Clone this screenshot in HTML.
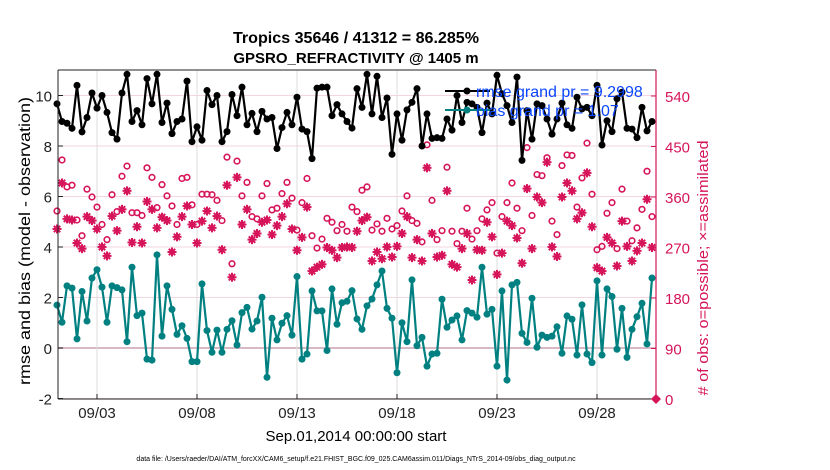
<!DOCTYPE html>
<html><head><meta charset="utf-8"><style>
body{margin:0;background:#fff;width:830px;height:470px;overflow:hidden}
svg{display:block;font-family:"Liberation Sans",Arial,sans-serif}
</style></head><body>
<svg id="chart" width="830" height="470" viewBox="0 0 830 470">
<g id="grid"></g>
<g id="series"></g>
<g id="axes"></g>
<text x="356" y="43" text-anchor="middle" font-size="16" font-weight="bold" textLength="246" lengthAdjust="spacingAndGlyphs">Tropics 35646 / 41312 = 86.285%</text>
<text x="356" y="63" text-anchor="middle" font-size="15" font-weight="bold">GPSRO_REFRACTIVITY @ 1405 m</text>
<text transform="translate(30,241) rotate(-90)" text-anchor="middle" font-size="16" textLength="288" lengthAdjust="spacingAndGlyphs">rmse and bias (model - observation)</text>
<text transform="translate(708,268) rotate(-90)" text-anchor="middle" font-size="15" fill="#d6145a" textLength="255" lengthAdjust="spacingAndGlyphs"># of obs: o=possible; ×=assimilated</text>
<text x="356" y="441" text-anchor="middle" font-size="15">Sep.01,2014 00:00:00 start</text>
<text x="356" y="461" text-anchor="middle" font-size="7">data file: /Users/raeder/DAI/ATM_forcXX/CAM6_setup/f.e21.FHIST_BGC.f09_025.CAM6assim.011/Diags_NTrS_2014-09/obs_diag_output.nc</text>
<g>
<line x1="445" y1="91" x2="490" y2="91" stroke="#000" stroke-width="2"/><circle cx="467" cy="91" r="3.5" fill="#000"/>
<text x="476" y="97" font-size="16" fill="#0a46ff">rmse grand pr = 9.2998</text>
<line x1="445" y1="110" x2="490" y2="110" stroke="#008080" stroke-width="2"/><circle cx="467" cy="110" r="3.5" fill="#008080"/>
<text x="476" y="116" font-size="16" fill="#0a46ff">bias grand pr = 1.07</text>
</g>
</svg>
<script>
const rmse=[9.67,8.97,8.9,8.7,10.4,8.56,9.13,10.1,9.5,10.0,9.33,8.53,8.27,10.1,10.84,8.97,9.4,8.84,10.67,9.67,10.84,8.93,9.7,8.49,8.97,9.07,10.57,8.17,8.76,8.23,10.2,9.64,10.0,8.17,8.57,10.04,9.2,10.33,8.84,9.29,8.57,9.37,9.07,9.13,7.9,8.73,9.33,8.84,9.93,8.67,8.57,7.5,10.29,10.33,10.33,9.2,9.64,9.27,8.97,8.71,10.27,9.53,10.84,9.27,10.76,9.13,9.9,7.67,9.27,8.23,9.43,9.73,10.27,8.0,9.27,8.3,8.33,8.3,9.07,8.63,10.0,8.93,9.73,9.67,9.53,8.53,9.7,9.27,10.8,10.07,9.6,8.93,10.73,7.43,9.4,8.27,9.67,9.6,9.07,8.47,9.07,9.7,8.84,8.7,9.93,9.47,9.53,9.2,10.4,8.04,9.0,8.57,9.87,10.13,8.7,8.67,8.33,9.53,8.6,8.97];
const bias=[1.7,1.02,2.46,2.37,0.36,2.24,1.07,2.77,3.1,2.41,1.02,2.46,2.39,2.3,0.25,3.2,1.28,1.38,-0.44,-0.48,3.69,0.47,2.46,1.53,0.54,0.88,0.38,-0.54,-0.54,2.54,0.69,-0.17,0.71,-0.17,0.74,1.08,0.12,1.4,1.61,0.75,1.07,2.01,-1.16,1.18,0.32,0.98,1.28,0.51,2.83,-0.44,-0.24,2.26,1.47,1.47,-0.1,2.34,0.94,1.79,1.85,2.27,1.15,0.74,1.67,1.94,2.5,3.05,1.57,1.18,-0.98,1.0,0.25,2.7,0.09,0.42,-0.72,-0.24,-0.21,1.93,0.82,1.11,1.27,0.32,1.48,1.38,1.22,3.2,1.34,1.53,-0.72,2.26,-1.27,2.5,2.6,0.58,0.22,1.97,0.03,0.51,0.42,0.47,0.84,-0.21,1.27,1.14,-0.28,1.71,-0.24,-0.58,2.66,-0.28,2.34,2.04,-0.05,1.57,-0.37,0.74,1.24,1.77,0.16,2.77];
const possible=[335,426,378,381,319,291,374,360,342,311,284,364,334,397,415,332,332,327,412,395,341,382,362,344,311,393,395,346,311,365,365,364,354,318,431,241,424,362,386,325,321,362,384,337,340,366,386,358,301,350,393,291,269,285,322,315,300,311,299,342,334,372,378,301,312,299,322,303,309,335,362,318,313,280,453,354,284,300,413,299,277,299,340,285,300,321,337,350,260,325,350,385,340,300,448,327,400,398,430,317,293,416,435,434,342,394,456,365,266,272,331,350,268,374,317,282,305,338,406,325];
const assimilated=[303,385,321,319,278,268,325,318,303,271,255,326,300,338,371,279,307,278,352,338,305,324,318,262,289,325,344,311,278,317,335,305,326,266,381,217,395,311,338,284,295,315,319,293,309,325,348,303,265,288,342,228,235,240,270,265,252,270,271,270,299,318,324,246,262,250,271,253,272,295,325,252,284,246,412,295,253,256,371,240,235,268,295,212,266,265,315,289,222,260,317,309,287,242,375,268,360,350,422,271,254,360,385,371,321,332,403,307,234,228,288,278,237,317,272,246,264,278,356,270];
const xTickLabels=['09/03','09/08','09/13','09/18','09/23','09/28'];
const xTickDays=[2,7,12,17,22,27];
const yTicks=[-2,0,2,4,6,8,10];
const y2Ticks=[0,90,180,270,360,450,540];

const L=58,R=656,T=70,B=399;
const X=d=>57+20*d;
const Y=v=>348-25.25*v;
const Y2=c=>399-c*(50.5/90);
const NS='http://www.w3.org/2000/svg';
function mk(tag,attrs,parent){const e=document.createElementNS(NS,tag);for(const k in attrs)e.setAttribute(k,attrs[k]);parent.appendChild(e);return e;}
const grid=document.getElementById('grid'),ser=document.getElementById('series'),ax=document.getElementById('axes');
const CR='#d6145a',TE='#008080';

yTicks.forEach(v=>{const l=mk('line',{x1:L,x2:R,y1:Y(v),y2:Y(v),stroke:v===0?'#d8b8c4':'#f3d6e0','stroke-width':v===0?2:1},grid);

});
xTickDays.forEach(d=>{const l=mk('line',{x1:X(d),x2:X(d),y1:T,y2:B,stroke:'#dcdcdc','stroke-width':1},grid);

});

possible.forEach((c,i)=>{const e=mk('circle',{cx:X(i/4),cy:Y2(c),r:2.8,fill:'none',stroke:CR,'stroke-width':1.6},ser);

});
assimilated.forEach((c,i)=>{const x=X(i/4),y=Y2(c);const g=mk('g',{stroke:CR,'stroke-width':2},ser);


[0,45,90,135].forEach(a=>{const r=a*Math.PI/180;mk('line',{x1:x-4.5*Math.cos(r),y1:y-4.5*Math.sin(r),x2:x+4.5*Math.cos(r),y2:y+4.5*Math.sin(r)},g);});});

function series(vals,col,name){
 const p=mk('polyline',{points:vals.map((v,i)=>X(i/4)+','+Y(v)).join(' '),fill:'none',stroke:col,'stroke-width':2.2,'stroke-linejoin':'round'},ser);
 
 
 vals.forEach((v,i)=>{const c=mk('circle',{cx:X(i/4),cy:Y(v),r:3.5,fill:col},ser);
 
 });
}
series(rmse,'#000','rmse');
series(bias,TE,'bias');

mk('line',{x1:L,y1:T,x2:R,y2:T,stroke:'#222','stroke-width':1},ax);
mk('line',{x1:L,y1:T,x2:L,y2:B,stroke:'#222','stroke-width':1},ax);
mk('line',{x1:L,y1:B,x2:R,y2:B,stroke:'#222','stroke-width':1},ax);
mk('line',{x1:R,y1:T,x2:R,y2:B,stroke:CR,'stroke-width':1.2},ax);
mk('path',{d:`M${R-5} ${B} L${R} ${B-5} L${R+5} ${B} L${R} ${B+5}Z`,fill:CR},ax);
yTicks.forEach(v=>{mk('line',{x1:L,x2:L+5,y1:Y(v),y2:Y(v),stroke:'#222'},ax);
 const t=mk('text',{x:L-6,y:Y(v)+6,'text-anchor':'end','font-size':15,fill:'#222'},ax);t.textContent=v;
 
 });
y2Ticks.forEach(c=>{mk('line',{x1:R-5,x2:R,y1:Y2(c),y2:Y2(c),stroke:CR},ax);
 const t=mk('text',{x:R+9,y:Y2(c)+6,'font-size':15,fill:CR},ax);t.textContent=c;
 
 });
xTickDays.forEach((d,i)=>{mk('line',{x1:X(d),x2:X(d),y1:B,y2:B-5,stroke:'#222'},ax);
 const t=mk('text',{x:X(d),y:418,'text-anchor':'middle','font-size':15,fill:'#222'},ax);t.textContent=xTickLabels[i];
 
 });
</script>
</body></html>
